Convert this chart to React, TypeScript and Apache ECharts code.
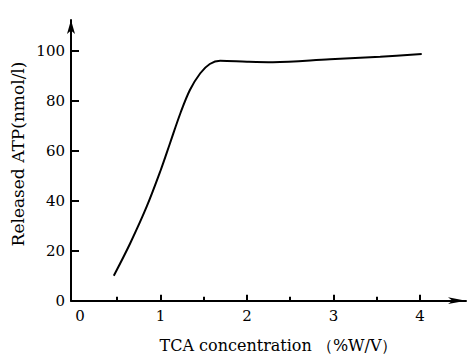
import React, { useEffect, useRef } from "react";
import * as echarts from "echarts";

const tcaConcentration = [0.46, 0.65, 0.84, 1.0, 1.11, 1.23, 1.34, 1.46, 1.57, 1.69, 2.0, 2.3, 2.96, 3.54, 4.02];
const releasedATP = [10, 23, 37.6, 52, 63, 75, 84.3, 91, 94.7, 96, 95.6, 95.4, 96.6, 97.6, 98.7];
const xLabelValues = [0, 1, 2, 3, 4];
const xMajorTicks = [1, 2, 3, 4];
const xMinorTicks = [0.5, 1.5, 2.5, 3.5];
const yLabelValues = [0, 20, 40, 60, 80, 100];
const yTickValues = [20, 40, 60, 80, 100];
const xAxisName = "TCA concentration （%W/V）";
const yAxisName = "Released ATP(nmol/l)";

const FONT = "DejaVu Serif";

export default function App() {
  const ref = useRef<HTMLDivElement>(null);
  useEffect(() => {
    document.body.style.margin = "0";
    const chart = echarts.init(ref.current!, null, { renderer: "svg" });
    const gridRect = { left: 71, right: 9, top: 20, bottom: 55.3 };
    const xMin = -0.0347;
    const xMax = 4.532;
    const yMax = 112.3;
    chart.setOption({
      animation: false,
      backgroundColor: "#fff",
      grid: [
        { ...gridRect },
        { ...gridRect },
      ],
      xAxis: [
        {
          type: "value",
          gridIndex: 0,
          min: xMin,
          max: xMax,
          splitLine: { show: false },
          axisLine: {
            show: true,
            onZero: false,
            symbol: ["none", "arrow"],
            symbolSize: [5, 18],
            lineStyle: { color: "#000", width: 2 },
          },
          axisTick: {
            show: true,
            inside: true,
            length: 6,
            customValues: xMajorTicks,
            lineStyle: { color: "#000", width: 2 },
          },
          axisLabel: {
            show: true,
            margin: 8,
            customValues: xLabelValues,
            color: "#000",
            fontFamily: FONT,
            fontSize: 15,
            formatter: (v: number) => (v === 0 ? "{z|0}" : String(v)),
            rich: {
              z: { padding: [0, 0, 0, 12], fontFamily: FONT, fontSize: 15, color: "#000" },
            },
          },
        },
        {
          type: "value",
          gridIndex: 1,
          min: xMin,
          max: xMax,
          splitLine: { show: false },
          axisLine: { show: false },
          axisLabel: { show: false },
          axisTick: {
            show: true,
            inside: true,
            length: 4,
            customValues: xMinorTicks,
            lineStyle: { color: "#000", width: 2 },
          },
        },
      ],
      yAxis: [
        {
          type: "value",
          gridIndex: 0,
          min: 0,
          max: yMax,
          splitLine: { show: false },
          axisLine: {
            show: true,
            onZero: false,
            symbol: ["none", "arrow"],
            symbolSize: [6, 14],
            lineStyle: { color: "#000", width: 2 },
          },
          axisTick: {
            show: true,
            inside: true,
            length: 8,
            customValues: yTickValues,
            lineStyle: { color: "#000", width: 2 },
          },
          axisLabel: {
            show: true,
            margin: 6,
            customValues: yLabelValues,
            color: "#000",
            fontFamily: FONT,
            fontSize: 15,
          },
        },
        {
          type: "value",
          gridIndex: 1,
          min: 0,
          max: yMax,
          show: false,
        },
      ],
      graphic: [
        {
          type: "text",
          x: 278.5,
          y: 345,
          style: {
            text: xAxisName,
            fontFamily: FONT,
            fontSize: 16,
            fill: "#000",
            align: "center",
            verticalAlign: "middle",
          },
        },
        {
          type: "text",
          x: 18,
          y: 154,
          rotation: Math.PI / 2,
          style: {
            text: yAxisName,
            fontFamily: FONT,
            fontSize: 17,
            fill: "#000",
            align: "center",
            verticalAlign: "middle",
          },
        },
      ],
      series: [
        {
          type: "line",
          xAxisIndex: 0,
          yAxisIndex: 0,
          data: tcaConcentration.map((x, i) => [x, releasedATP[i]]),
          smooth: 0.35,
          showSymbol: false,
          symbol: "none",
          lineStyle: { color: "#000", width: 2 },
        },
      ],
    });
    return () => chart.dispose();
  }, []);
  return <div ref={ref} style={{ width: 475, height: 356 }} />;
}
